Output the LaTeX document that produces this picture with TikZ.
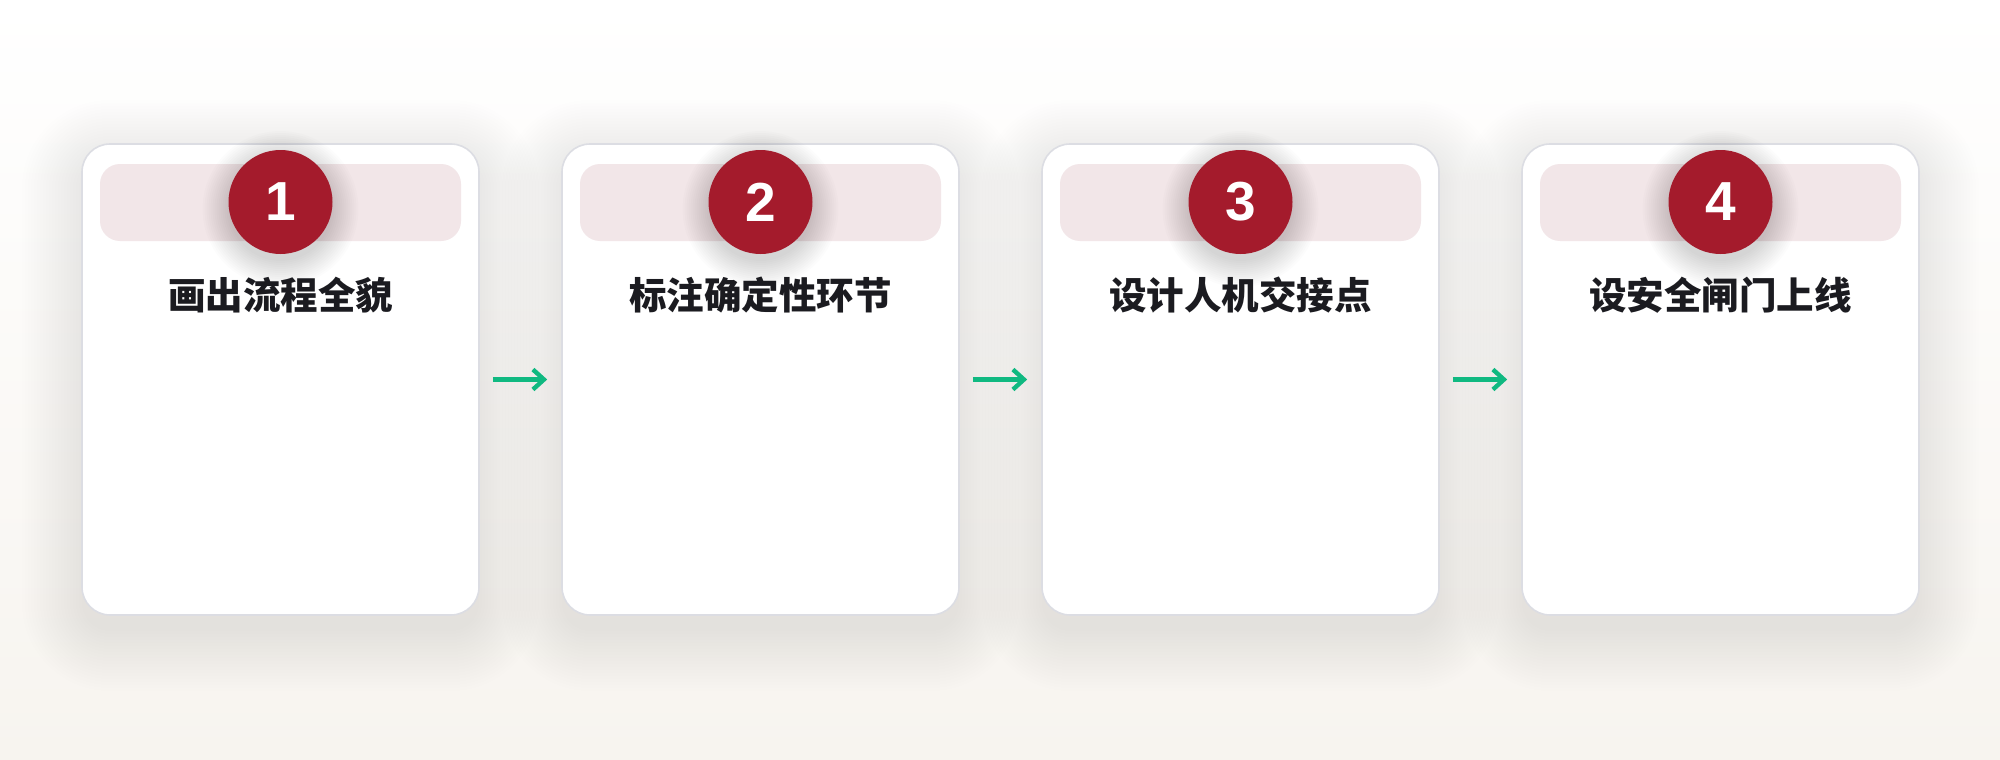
\documentclass[tikz,border=0pt]{standalone}
\usepackage{fontspec}
\setmainfont{Liberation Sans}
\newfontfamily\numfont{Liberation Sans}
\newfontfamily\cjk{Noto Sans CJK SC}
\usetikzlibrary{arrows.meta}
\definecolor{bgbot}{HTML}{F7F4EF}
\definecolor{cardline}{HTML}{DCDDE3}
\definecolor{bandpink}{HTML}{F2E6E8}
\definecolor{badgered}{HTML}{A41B2C}
\definecolor{titleink}{HTML}{1B1B20}
\definecolor{arrowgreen}{HTML}{10B981}
\tikzset{
  card/.style={rectangle, minimum width=397pt, minimum height=471pt, rounded corners=28pt,
    draw=cardline, line width=1.6pt, fill=white},
  band/.style={rectangle, minimum width=361pt, minimum height=77pt, rounded corners=20pt,
    fill=bandpink, draw=none},
  badge/.style={circle, minimum size=104pt, inner sep=0pt, fill=badgered, draw=none, text=white,
    font=\numfont\fontsize{55}{60}\selectfont\bfseries},
  steptitle/.style={text=titleink, font=\cjk\fontsize{37.5}{42}\selectfont\bfseries, inner sep=0pt},
  flowarrow/.style={draw=arrowgreen, line width=4.4pt, -{Straight Barb[length=11pt,width=20pt]},
    shorten <=13pt, shorten >=14pt},
  softshade/.style={fill=black, draw=none}
}
\begin{document}
\begin{tikzpicture}[x=1pt,y=-1pt]
\useasboundingbox (0,0) rectangle (2000,760);
\shade[top color=white, bottom color=bgbot] (0,0) rectangle (2000,760);
% card shadows
\foreach \cx in {280.5,760.5,1240.5,1720.5}{
  \foreach \e in {0,3,...,60}{
    \fill[softshade, opacity=0.0048, rounded corners={28+\e}]
      ({\cx-198.5-\e},{144-\e+16}) rectangle ({\cx+198.5+\e},{615+\e+16});
  }
}
\foreach \i/\cx/\num/\ttl in {1/280.5/1/画出流程全貌, 2/760.5/2/标注确定性环节, 3/1240.5/3/设计人机交接点, 4/1720.5/4/设安全闸门上线}{
  \node[card] (c\i) at (\cx,379.5) {};
  \node[band] (b\i) at (\cx,202.5) {};
  \foreach \e in {0,2,...,26}{
    \fill[softshade, opacity=0.011] (\cx,{202+7}) circle ({52+\e});
  }
  \node[badge] (n\i) at (\cx,202) {\num};
  \node[steptitle] (t\i) at (\cx,295) {\ttl};
}
\draw[flowarrow] (c1.east) -- (c2.west);
\draw[flowarrow] (c2.east) -- (c3.west);
\draw[flowarrow] (c3.east) -- (c4.west);
\end{tikzpicture}
\end{document}
